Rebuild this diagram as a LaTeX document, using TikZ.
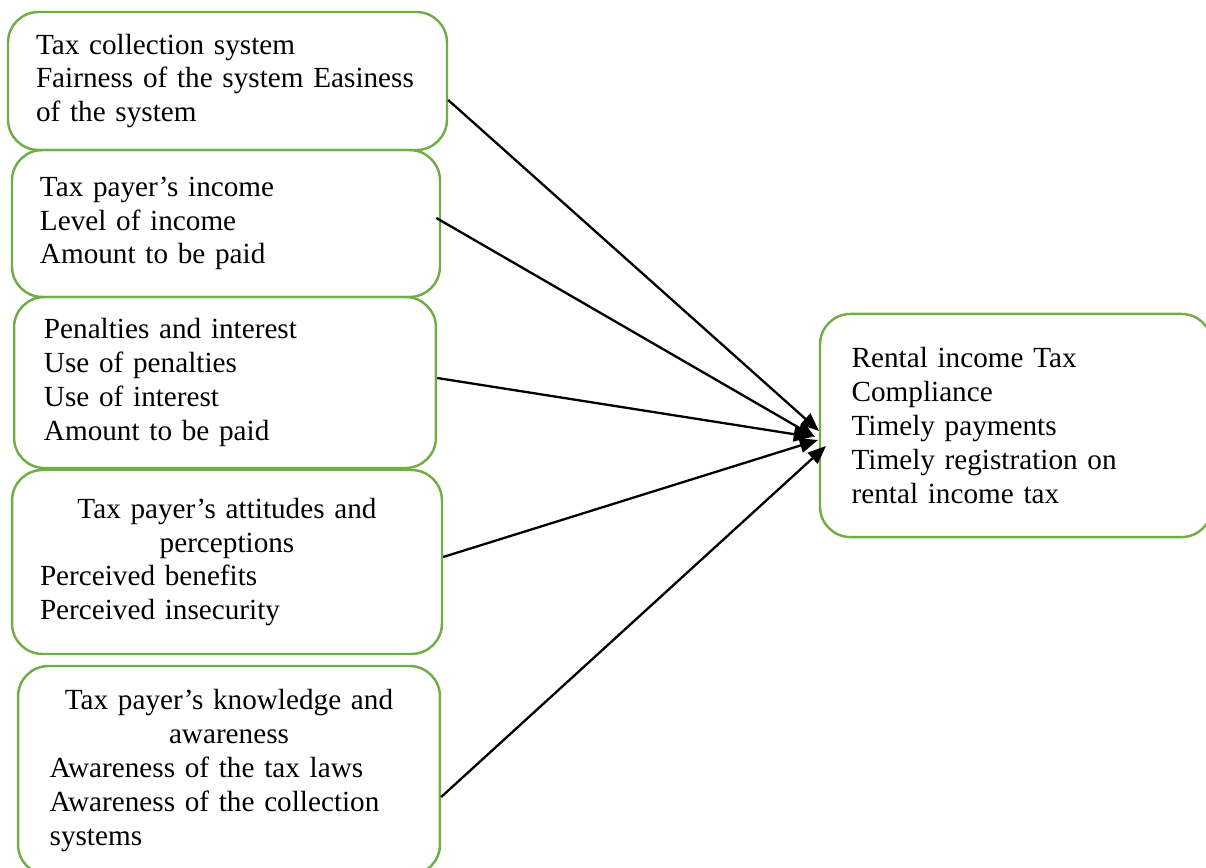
\documentclass[tikz,border=0pt]{standalone}
\usepackage{fontspec}
\setmainfont{Liberation Serif}
\usetikzlibrary{arrows.meta}
\definecolor{boxgreen}{RGB}{112,173,71}
\newcommand\boxfont{\fontsize{12}{13.9}\selectfont\spaceskip 2.3pt plus 1pt minus 0.5pt\relax}
\tikzset{
  factor/.style={draw=boxgreen, line width=1pt, rounded corners=12.5pt,
    inner xsep=11.5pt, inner ysep=0pt, align=left, font=\boxfont},
  flow/.style={-{Triangle[length=7.5pt,width=6pt]}, line width=0.95pt}
}
\begin{document}
\begin{tikzpicture}[x=0.411pt,y=-0.411pt]
  \useasboundingbox (0,0) rectangle (1206,868);
  \clip (0,0) rectangle (1206,868);
  \node[factor, text width=157.4pt, minimum height=56.7pt] (1) at (227.5,81)
    {Tax collection system\\ Fairness of the system Easiness\\ of the system};
  \node[factor, text width=152.9pt, minimum height=60.4pt] (2) at (226,223.5)
    {Tax payer’s income\\ Level of income\\ Amount to be paid};
  \node[factor, inner xsep=12.3pt, text width=148.8pt, minimum height=70.3pt] (3) at (225,382.5)
    {Penalties and interest\\ Use of penalties\\ Use of interest\\ Amount to be paid};
  \node[factor, text width=153.7pt, minimum height=75.6pt] (4) at (227,562)
    {{\centering Tax payer’s attitudes and\\ perceptions\par}Perceived benefits\\ Perceived insecurity};
  \node[factor, inner xsep=13pt, text width=147.4pt, minimum height=85.9pt] (5) at (229,770.5)
    {{\centering Tax payer’s knowledge and\\ awareness\par}Awareness of the tax laws\\ Awareness of the collection\\ systems};
  \node[factor, inner xsep=13pt, text width=135.1pt, minimum height=91.7pt] (6) at (1016,425.5)
    {Rental income Tax\\ Compliance\\ Timely payments\\ Timely registration on\\ rental income tax};
  \coordinate (in1) at (819,431);
  \coordinate (in2) at (815,437);
  \coordinate (in3) at (812,437);
  \coordinate (in4) at (818,440);
  \coordinate (in5) at (826,446);
  \begin{scope}[flow]
    \draw (1.east |- 0,100) -- (in1);
    \draw ([xshift=-2pt]2.east |- 0,218) -- (in2);
    \draw (3.east |- 0,378) -- (in3);
    \draw (4.east |- 0,557) -- (in4);
    \draw (5.east |- 0,797) -- (in5);
  \end{scope}
\end{tikzpicture}
\end{document}
